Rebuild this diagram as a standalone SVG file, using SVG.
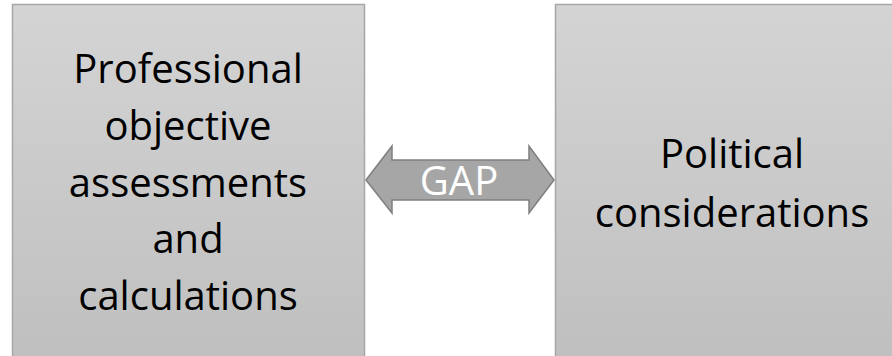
<svg xmlns="http://www.w3.org/2000/svg" width="892" height="356" viewBox="0 0 892 356">
<style>
.box{stroke:#a6a6a6;stroke-width:1.5;fill:url(#g)}
.t{font-family:"Open Sans","Liberation Sans",sans-serif;font-size:40px;fill:#000;text-anchor:middle}
.gap{font-family:"Open Sans","Liberation Sans",sans-serif;font-size:40px;fill:#fff;text-anchor:middle}
</style>
<defs>
<linearGradient id="g" x1="0" y1="0" x2="0" y2="1">
<stop offset="0" stop-color="#d4d4d4"/>
<stop offset="1" stop-color="#bfbfbf"/>
</linearGradient>
</defs>
<rect width="892" height="356" fill="#fff"/>
<g id="node-professional">
<rect class="box" x="12.5" y="4.5" width="352" height="360"/>
<text class="t" x="188" y="83">Professional</text>
<text class="t" x="188" y="140">objective</text>
<text class="t" x="188" y="197">assessments</text>
<text class="t" x="188" y="253">and</text>
<text class="t" x="188" y="310">calculations</text>
</g>
<g id="node-political">
<rect class="box" x="555.5" y="4.5" width="352" height="360"/>
<text class="t" x="732" y="168">Political</text>
<text class="t" x="732" y="227">considerations</text>
</g>
<g id="connectors">
<path d="M366,180 L392,146 L392,160 L529,160 L529,146 L554,180 L529,213 L529,200 L392,200 L392,213 Z" fill="#a6a6a6" stroke="#7f7f7f" stroke-width="1.5" stroke-linejoin="miter"/>
<text class="gap" x="459" y="195">GAP</text>
</g>
</svg>
